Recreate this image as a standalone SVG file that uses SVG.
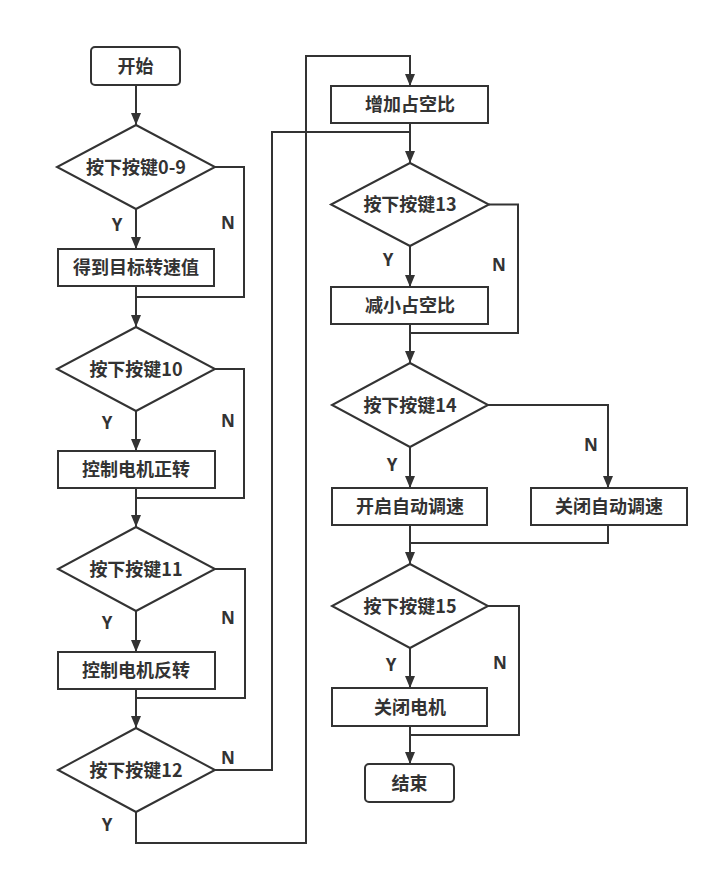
<svg xmlns="http://www.w3.org/2000/svg" width="717" height="875" viewBox="0 0 717 875">
<style>
.s{fill:#fff;stroke:#333;stroke-width:2}
.c{fill:none;stroke:#333;stroke-width:2}
.t{font-family:"Noto Sans CJK SC","Noto Sans",sans-serif;font-weight:bold;font-size:18px;fill:#333;text-anchor:middle}
.l{font-family:"Noto Sans","Liberation Sans",sans-serif;font-weight:bold;font-size:17px;fill:#333;text-anchor:middle}
</style>
<defs>
<marker id="a" markerUnits="userSpaceOnUse" markerWidth="12" markerHeight="10" refX="12" refY="5" orient="auto">
<path d="M0,0 L12,5 L0,10 z" fill="#333"/>
</marker>
</defs>
<rect width="717" height="875" fill="#fff"/>
<g id="connectors">
<path class="c" d="M136,86 V125" marker-end="url(#a)"/>
<path class="c" d="M136,209 V249" marker-end="url(#a)"/>
<path class="c" d="M215,167 H244 V297 H136"/>
<path class="c" d="M136,286 V327" marker-end="url(#a)"/>
<path class="c" d="M136,411 V451" marker-end="url(#a)"/>
<path class="c" d="M215,369 H244 V498 H136"/>
<path class="c" d="M136,488 V527" marker-end="url(#a)"/>
<path class="c" d="M136,611 V652" marker-end="url(#a)"/>
<path class="c" d="M215,569 H245 V698 H136"/>
<path class="c" d="M136,689 V728" marker-end="url(#a)"/>
<path class="c" d="M215,770 H272 V132 H410"/>
<path class="c" d="M136,812 V843 H306 V56 H410 V86" marker-end="url(#a)"/>
<path class="c" d="M410,123 V163" marker-end="url(#a)"/>
<path class="c" d="M410,246 V287" marker-end="url(#a)"/>
<path class="c" d="M489,204.5 H518 V333 H410"/>
<path class="c" d="M410,324 V363" marker-end="url(#a)"/>
<path class="c" d="M410,447 V488" marker-end="url(#a)"/>
<path class="c" d="M488,405 H608 V488" marker-end="url(#a)"/>
<path class="c" d="M608,525 V543 H410"/>
<path class="c" d="M410,525 V564" marker-end="url(#a)"/>
<path class="c" d="M410,648 V688" marker-end="url(#a)"/>
<path class="c" d="M488,606 H519 V735 H410"/>
<path class="c" d="M410,726 V764" marker-end="url(#a)"/>
<text class="l" x="117" y="231">Y</text>
<text class="l" x="228" y="229">N</text>
<text class="l" x="107" y="429">Y</text>
<text class="l" x="228" y="427">N</text>
<text class="l" x="107" y="629">Y</text>
<text class="l" x="228" y="624">N</text>
<text class="l" x="228" y="764">N</text>
<text class="l" x="107" y="831">Y</text>
<text class="l" x="388" y="266">Y</text>
<text class="l" x="499" y="271">N</text>
<text class="l" x="392" y="471">Y</text>
<text class="l" x="591" y="451">N</text>
<text class="l" x="391" y="671">Y</text>
<text class="l" x="500" y="669">N</text>
</g>
<g id="start"><rect class="s" x="91" y="47" width="89" height="38" rx="4"/><text class="t" x="135.5" y="73">开始</text></g>
<g id="d1"><path class="s" d="M136,125 L215,167 L136,209 L57,167 z"/><text class="t" x="136" y="174">按下按键0-9</text></g>
<g id="b1"><rect class="s" x="58" y="249" width="156" height="37"/><text class="t" x="136" y="274">得到目标转速值</text></g>
<g id="d2"><path class="s" d="M136,327 L215,369 L136,411 L57,369 z"/><text class="t" x="136" y="376">按下按键10</text></g>
<g id="b2"><rect class="s" x="58" y="451" width="157" height="37"/><text class="t" x="136" y="476">控制电机正转</text></g>
<g id="d3"><path class="s" d="M136,527 L215,569 L136,611 L58,569 z"/><text class="t" x="136" y="576">按下按键11</text></g>
<g id="b3"><rect class="s" x="58" y="652" width="157" height="37"/><text class="t" x="136" y="677">控制电机反转</text></g>
<g id="d4"><path class="s" d="M136,728 L215,770 L136,812 L58,770 z"/><text class="t" x="136" y="777">按下按键12</text></g>
<g id="b4"><rect class="s" x="331" y="86" width="157" height="37"/><text class="t" x="410" y="111">增加占空比</text></g>
<g id="d5"><path class="s" d="M410,163 L489,204.5 L410,246 L331,204.5 z"/><text class="t" x="410" y="211">按下按键13</text></g>
<g id="b5"><rect class="s" x="331" y="287" width="157" height="37"/><text class="t" x="410" y="312">减小占空比</text></g>
<g id="d6"><path class="s" d="M410,363 L488,405 L410,447 L332,405 z"/><text class="t" x="410" y="412">按下按键14</text></g>
<g id="b6"><rect class="s" x="332" y="488" width="155" height="37"/><text class="t" x="410" y="513">开启自动调速</text></g>
<g id="b7"><rect class="s" x="531" y="488" width="156" height="37"/><text class="t" x="609" y="513">关闭自动调速</text></g>
<g id="d7"><path class="s" d="M410,564 L488,606 L410,648 L332,606 z"/><text class="t" x="410" y="613">按下按键15</text></g>
<g id="b8"><rect class="s" x="332" y="688" width="155" height="38"/><text class="t" x="410" y="714">关闭电机</text></g>
<g id="end"><rect class="s" x="365" y="764" width="89" height="38" rx="4"/><text class="t" x="409.5" y="790">结束</text></g>
</svg>
